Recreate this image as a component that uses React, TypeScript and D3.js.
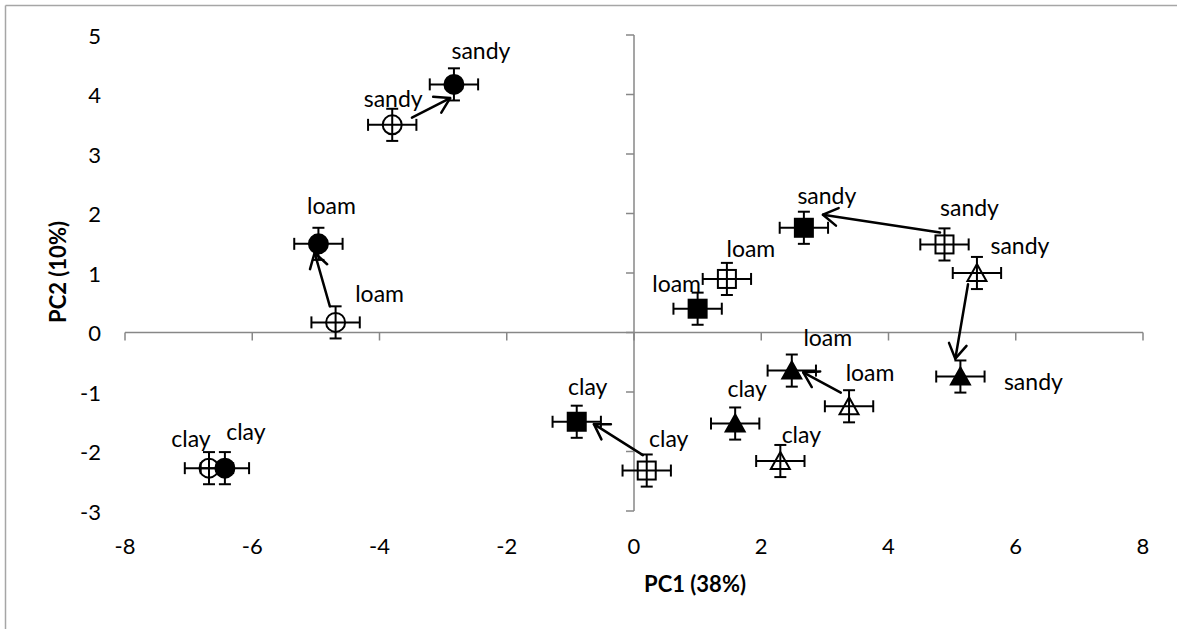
import React from "react";
import * as d3 from "d3";

// ---------- data ----------
const soils = ["sandy", "loam", "clay"];

const circleOpenX = [-3.8, -4.69, -6.68];
const circleOpenY = [3.49, 0.17, -2.28];
const circleFilledX = [-2.83, -4.96, -6.43];
const circleFilledY = [4.17, 1.49, -2.28];
const squareOpenX = [4.88, 1.46, 0.2];
const squareOpenY = [1.48, 0.9, -2.32];
const squareFilledX = [2.67, 1.0, -0.9];
const squareFilledY = [1.76, 0.4, -1.5];
const triangleOpenX = [5.39, 3.38, 2.3];
const triangleOpenY = [1.0, -1.24, -2.16];
const triangleFilledX = [5.13, 2.48, 1.59];
const triangleFilledY = [-0.74, -0.64, -1.53];

// standard errors (PC1, PC2)
const errX = [0.38, 0.38, 0.38];
const errY = [0.27, 0.27, 0.27];

const xTicks = [-8, -6, -4, -2, 0, 2, 4, 6, 8];
const yTicks = [-3, -2, -1, 0, 1, 2, 3, 4, 5];

// arrows (from -> to) in PC coordinates
const arrowFrom = [
  [-3.49, 3.61],
  [-4.78, 0.44],
  [4.81, 1.68],
  [5.25, 0.81],
  [3.25, -1.01],
  [0.14, -2.06],
];
const arrowTo = [
  [-2.89, 3.94],
  [-5.02, 1.34],
  [2.97, 1.98],
  [5.05, -0.44],
  [2.66, -0.67],
  [-0.63, -1.54],
];

// ---------- layout / style ----------
const W = 1177;
const H = 629;
const FONT = "Lato, 'Open Sans', sans-serif";
const AXIS = "#878787";

const series = [
  { xs: circleOpenX, ys: circleOpenY, shape: "circle", filled: false, offs: [[1, -27], [44, -29], [-18, -30]] },
  { xs: circleFilledX, ys: circleFilledY, shape: "circle", filled: true, offs: [[27, -34], [13, -39], [21, -37]] },
  { xs: squareOpenX, ys: squareOpenY, shape: "square", filled: false, offs: [[25, -37], [24, -31], [22, -33]] },
  { xs: squareFilledX, ys: squareFilledY, shape: "square", filled: true, offs: [[23, -33], [-21, -26], [11, -36]] },
  { xs: triangleOpenX, ys: triangleOpenY, shape: "triangle", filled: false, offs: [[43, -28], [21, -34], [21, -27]] },
  { xs: triangleFilledX, ys: triangleFilledY, shape: "triangle", filled: true, offs: [[73, 4], [36, -34], [12, -36]] },
];

const x = d3.scaleLinear().domain([-8, 8]).range([125, 1143]);
const y = d3.scaleLinear().domain([-3, 5]).range([511, 35]);

function Marker({ cx, cy, shape, filled }: { cx: number; cy: number; shape: string; filled: boolean }) {
  const fill = filled ? "#000" : "none";
  const sw = 2;
  if (shape === "circle") return <circle cx={cx} cy={cy} r={9.5} fill={fill} stroke="#000" strokeWidth={sw} />;
  if (shape === "square")
    return <rect x={cx - 9} y={cy - 9} width={18} height={18} fill={fill} stroke="#000" strokeWidth={sw} />;
  const p = d3.path();
  p.moveTo(cx, cy - 9);
  p.lineTo(cx + 9.5, cy + 8);
  p.lineTo(cx - 9.5, cy + 8);
  p.closePath();
  return <path d={p.toString()} fill={fill} stroke="#000" strokeWidth={sw} strokeLinejoin="miter" />;
}

function ErrorBars({ px, py, ex, ey }: { px: number; py: number; ex: number; ey: number }) {
  const x0 = x(px - ex), x1 = x(px + ex);
  const y0 = y(py - ey), y1 = y(py + ey);
  const cx = x(px), cy = y(py);
  const c = 6;
  return (
    <g stroke="#000" strokeWidth={2} fill="none">
      <line x1={x0} y1={cy} x2={x1} y2={cy} />
      <line x1={x0} y1={cy - c} x2={x0} y2={cy + c} />
      <line x1={x1} y1={cy - c} x2={x1} y2={cy + c} />
      <line x1={cx} y1={y0} x2={cx} y2={y1} />
      <line x1={cx - c} y1={y0} x2={cx + c} y2={y0} />
      <line x1={cx - c} y1={y1} x2={cx + c} y2={y1} />
    </g>
  );
}

function Arrow({ from, to }: { from: number[]; to: number[] }) {
  const x1 = x(from[0]), y1 = y(from[1]);
  const x2 = x(to[0]), y2 = y(to[1]);
  const ang = Math.atan2(y1 - y2, x1 - x2);
  const L = 17, a = 0.55;
  const w1 = [x2 + L * Math.cos(ang + a), y2 + L * Math.sin(ang + a)];
  const w2 = [x2 + L * Math.cos(ang - a), y2 + L * Math.sin(ang - a)];
  return (
    <g stroke="#000" strokeWidth={2.5} fill="none" strokeLinecap="round" strokeLinejoin="round">
      <line x1={x1} y1={y1} x2={x2} y2={y2} />
      <polyline points={`${w1[0]},${w1[1]} ${x2},${y2} ${w2[0]},${w2[1]}`} />
    </g>
  );
}

export default function App() {
  const x0 = x(0);
  const y0 = y(0);
  return (
    <svg
      width={W}
      height={H}
      style={{ position: "absolute", left: 0, top: 0, background: "#fff" }}
      fontFamily={FONT}
    >
      <rect x={0} y={0} width={W} height={H} fill="#fff" />
      {/* chart frame (top and left edges visible) */}
      <g stroke="#a6a6a6" strokeWidth={1.5}>
        <line x1={5.5} y1={5.5} x2={W} y2={5.5} />
        <line x1={5.5} y1={5.5} x2={5.5} y2={H} />
      </g>

      {/* axes */}
      <g stroke={AXIS} strokeWidth={1.5}>
        <line x1={x(-8)} y1={y0} x2={x(8)} y2={y0} />
        {xTicks.map((t) => (
          <line key={"xt" + t} x1={x(t)} y1={y0} x2={x(t)} y2={y0 + 8} />
        ))}
        <line x1={x0} y1={y(5)} x2={x0} y2={y(-3)} />
        {yTicks.map((t) => (
          <line key={"yt" + t} x1={x0 - 8} y1={y(t)} x2={x0} y2={y(t)} />
        ))}
      </g>

      {/* tick labels */}
      <g fontSize={22} fill="#000">
        {xTicks.map((t) => (
          <text key={"xl" + t} x={x(t)} y={545} textAnchor="middle" dominantBaseline="central">
            {t}
          </text>
        ))}
        {yTicks.map((t) => (
          <text key={"yl" + t} x={101} y={y(t)} textAnchor="end" dominantBaseline="central">
            {t}
          </text>
        ))}
      </g>

      {/* axis titles */}
      <text x={695} y={583} textAnchor="middle" dominantBaseline="central" fontSize={22} fontWeight="bold">
        PC1 (38%)
      </text>
      <text
        transform={`translate(57,272) rotate(-90)`}
        textAnchor="middle"
        dominantBaseline="central"
        fontSize={22}
        fontWeight="bold"
      >
        PC2 (10%)
      </text>

      {/* arrows */}
      {arrowFrom.map((f, i) => (
        <Arrow key={"ar" + i} from={f} to={arrowTo[i]} />
      ))}

      {/* points */}
      {series.map((s, si) =>
        s.xs.map((vx, i) => (
          <g key={`p${si}-${i}`}>
            <ErrorBars px={vx} py={s.ys[i]} ex={errX[i]} ey={errY[i]} />
            <Marker cx={x(vx)} cy={y(s.ys[i])} shape={s.shape} filled={s.filled} />
          </g>
        ))
      )}

      {/* labels */}
      <g fontSize={23} fill="#000">
        {series.map((s, si) =>
          s.xs.map((vx, i) => (
            <text
              key={`l${si}-${i}`}
              x={x(vx) + s.offs[i][0]}
              y={y(s.ys[i]) + s.offs[i][1]}
              textAnchor="middle"
              dominantBaseline="central"
            >
              {soils[i]}
            </text>
          ))
        )}
      </g>
    </svg>
  );
}
